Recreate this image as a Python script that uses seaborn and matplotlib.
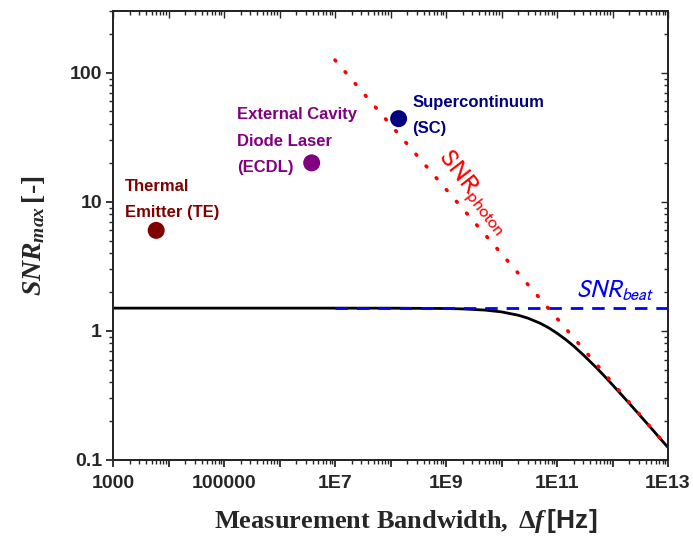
import numpy as np
import pandas as pd
import matplotlib
matplotlib.use("Agg")
import matplotlib.pyplot as plt
import matplotlib.ticker as mticker
import seaborn as sns

# ---- data ----
curve_f = [1e3, 1e5, 1e7, 1e8, 1e9, 2e9, 5e9, 1e10, 2e10, 3e10, 5e10, 7e10,
           1e11, 1.5e11, 2e11, 3e11, 5e11, 7e11, 1e12, 2e12, 5e12, 1e13]
curve_snr = [1.5, 1.5, 1.5, 1.499, 1.49, 1.479, 1.449, 1.403, 1.322, 1.254, 1.144, 1.059,
             0.96, 0.844, 0.762, 0.650, 0.524, 0.451, 0.382, 0.275, 0.176, 0.125]
photon_f = [1e7, 1e13]
photon_snr = [125.0, 0.125]
beat_f = [1e7, 1e13]
beat_snr = [1.5, 1.5]
src_names = ["Thermal\nEmitter (TE)", "External Cavity\nDiode Laser\n(ECDL)", "Supercontinuum\n(SC)"]
src_f = [6.0e3, 3.8e6, 1.4e8]
src_snr = [6.0, 20.0, 44.0]
src_colors = ["#800000", "#800080", "#000080"]
label_f = [1.64e3, 1.72e5, 2.5e8]
label_snr = [10.4, 29.5, 46.7]
x_ticks = [1e3, 1e4, 1e5, 1e6, 1e7, 1e8, 1e9, 1e10, 1e11, 1e12, 1e13]
x_ticklabels = ["1000", "", "100000", "", "1E7", "", "1E9", "", "1E11", "", "1E13"]
y_ticks = [0.1, 1, 10, 100]
y_ticklabels = ["0.1", "1", "10", "100"]

sns.set_style("ticks")
plt.rcParams["font.family"] = ["Liberation Sans", "DejaVu Sans"]
plt.rcParams["mathtext.fontset"] = "custom"
plt.rcParams["mathtext.rm"] = "Liberation Serif:bold"
plt.rcParams["mathtext.it"] = "Liberation Serif:italic:bold"
plt.rcParams["mathtext.bf"] = "Liberation Serif:bold"
plt.rcParams["mathtext.sf"] = "Liberation Sans:bold"

fig = plt.figure(figsize=(6.93, 5.39), dpi=100)
ax = fig.add_axes([113/693, 79/539, 555/693, 449/539])
ax.set_xscale("log")
ax.set_yscale("log")

curve_df = pd.DataFrame({"f": curve_f, "snr": curve_snr})
photon_df = pd.DataFrame({"f": photon_f, "snr": photon_snr})
beat_df = pd.DataFrame({"f": beat_f, "snr": beat_snr})

sns.lineplot(data=curve_df, x="f", y="snr", ax=ax, color="black", lw=2.0, zorder=3)
sns.lineplot(data=beat_df, x="f", y="snr", ax=ax, color="#0000ff", lw=2.0,
             linestyle=(0, (4.5, 3.2)), zorder=4)
sns.lineplot(data=photon_df, x="f", y="snr", ax=ax, color="#ff0000", lw=2.6,
             linestyle=(0, (0.3, 4.0)), dash_capstyle="round", zorder=5)

src_df = pd.DataFrame({"f": src_f, "snr": src_snr, "name": src_names})
sns.scatterplot(data=src_df, x="f", y="snr", hue="name", palette=src_colors,
                s=150, edgecolor="none", legend=False, ax=ax, zorder=6)

for name, lf, ls, c in zip(src_names, label_f, label_snr, src_colors):
    ax.text(lf, ls, name, color=c, fontsize=12, fontweight="bold",
            ha="left", va="center", linespacing=1.95,
            family=["Liberation Sans", "DejaVu Sans"])

ax.text(3.0e9, 11.8, r"$\mathrm{SNR}_{\mathrm{photon}}$", color="#ff0000",
        fontsize=19, rotation=-52, ha="center", va="center", math_fontfamily="stixsans")
ax.text(1.1e12, 2.05, r"$SNR_{beat}$", color="#0000ff", fontsize=18,
        ha="center", va="center", math_fontfamily="stixsans")

ax.set_xlim(1e3, 1e13)
ax.set_ylim(0.1, 300)
ax.xaxis.set_major_locator(mticker.FixedLocator(x_ticks))
ax.xaxis.set_major_formatter(mticker.FixedFormatter(x_ticklabels))
ax.xaxis.set_minor_locator(mticker.LogLocator(base=10, subs=np.arange(2, 10), numticks=50))
ax.xaxis.set_minor_formatter(mticker.NullFormatter())
ax.yaxis.set_major_locator(mticker.FixedLocator(y_ticks))
ax.yaxis.set_major_formatter(mticker.FixedFormatter(y_ticklabels))
ax.yaxis.set_minor_locator(mticker.LogLocator(base=10, subs=np.arange(2, 10), numticks=50))
ax.yaxis.set_minor_formatter(mticker.NullFormatter())

for lbl in ax.get_xticklabels() + ax.get_yticklabels():
    lbl.set_fontweight("bold")
ax.tick_params(which="major", direction="out", length=5, width=1.3, labelsize=14)
ax.tick_params(axis="x", which="major", pad=6)
ax.tick_params(axis="y", which="major", pad=3)
ax.tick_params(which="minor", direction="out", length=3, width=1.0)
for sp in ax.spines.values():
    sp.set_linewidth(1.4)
    sp.set_visible(True)

# mirrored inward ticks on top and right
axt = ax.twiny()
axt.set_xscale("log")
axt.set_xlim(ax.get_xlim())
axt.xaxis.set_major_locator(mticker.FixedLocator(x_ticks))
axt.xaxis.set_minor_locator(mticker.LogLocator(base=10, subs=np.arange(2, 10), numticks=50))
axt.tick_params(which="both", direction="in", labeltop=False, width=1.0)
axt.tick_params(which="major", length=5)
axt.tick_params(which="minor", length=3)
axr = ax.twinx()
axr.set_yscale("log")
axr.set_ylim(ax.get_ylim())
axr.yaxis.set_major_locator(mticker.FixedLocator(y_ticks))
axr.yaxis.set_minor_locator(mticker.LogLocator(base=10, subs=np.arange(2, 10), numticks=50))
axr.tick_params(which="both", direction="in", labelright=False, width=1.0)
axr.tick_params(which="major", length=5)
axr.tick_params(which="minor", length=3)
for a in (axt, axr):
    for sp in a.spines.values():
        sp.set_linewidth(1.4)

ax.set_xlabel(r"$\mathrm{Measurement\ Bandwidth,\ \Delta}\mathit{f}\,\mathsf{[Hz]}$",
              fontsize=19)
ax.xaxis.set_label_coords(0.527, -0.105)
ax.set_ylabel(r"$\mathit{SNR}_{\mathit{max}}\,\text{[-]}$", fontsize=20, labelpad=16)

fig.savefig("out.png", dpi=100)
